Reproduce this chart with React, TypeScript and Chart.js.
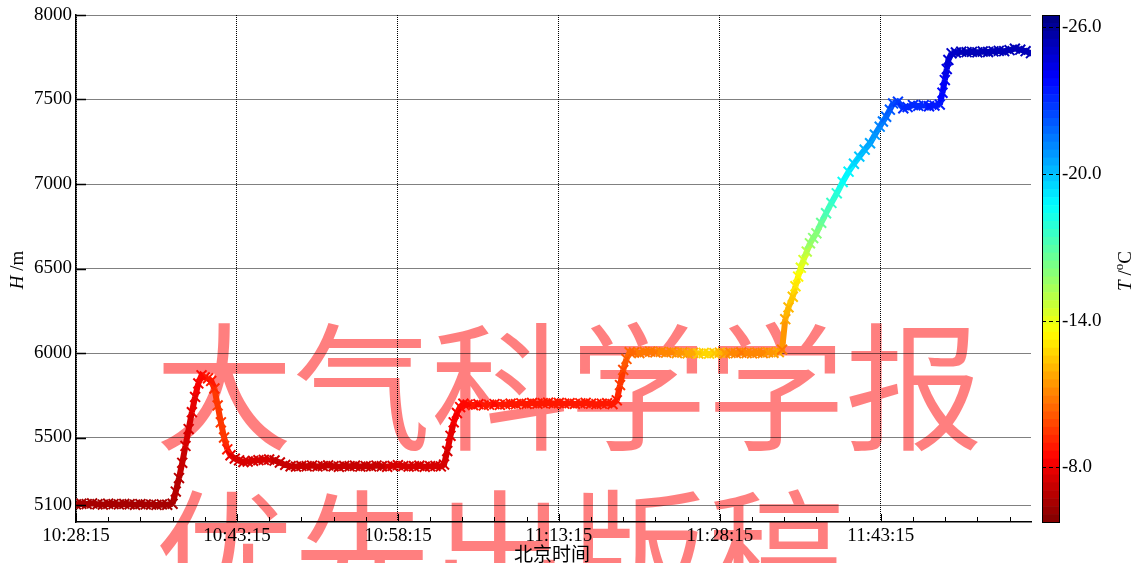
import React, { useEffect, useRef } from 'react';
import { Chart, registerables } from 'chart.js';

Chart.register(...registerables);

// ---- data (minutes after 10:28:15, height in m, temperature in °C) ----
const START_SECONDS = 10 * 3600 + 28 * 60 + 15;

const timeMin = [
  0, 0.5, 1, 1.5, 2, 2.5, 3, 3.5, 4, 4.5, 5, 5.5, 6, 6.5, 7, 7.5, 8, 8.5, 9,
  9.3, 9.6, 9.9, 10.2, 10.5, 10.8, 11.1, 11.4, 11.7,
  12.0, 12.3, 12.6, 12.9, 13.2, 13.5, 13.8, 14.1, 14.4, 14.8,
  15.2, 15.6, 16.0, 16.5, 17.0, 17.5, 18.0, 18.5, 19.0, 19.5, 20.0,
  20.5, 21, 21.5, 22, 22.5, 23, 23.5, 24, 24.5, 25, 25.5, 26, 26.5, 27, 27.5, 28, 28.5, 29, 29.5, 30, 30.5, 31, 31.5, 32, 32.5, 33, 33.5, 34,
  34.3, 34.6, 34.9, 35.2, 35.5, 35.8, 36.1,
  36.5, 37, 37.5, 38, 38.5, 39, 39.5, 40, 40.5, 41, 41.5, 42, 42.5, 43, 43.5, 44, 44.5, 45, 45.5, 46, 46.5, 47, 47.5, 48, 48.5, 49, 49.5, 50,
  50.4, 50.7, 51.0, 51.3, 51.6,
  52, 52.5, 53, 53.5, 54, 54.5, 55, 55.5, 56, 56.5, 57, 57.5, 58, 58.5, 59, 59.5, 60, 60.5, 61, 61.5, 62, 62.5, 63, 63.5, 64, 64.5, 65, 65.5,
  65.8, 66.1, 66.4, 66.8, 67.05, 67.3, 67.55, 67.8, 68.1, 68.4, 68.7, 69.0, 69.45, 69.9, 70.4, 70.9, 71.45, 72.0, 72.5, 73.0, 73.5, 74.0, 74.45, 74.9, 75.2, 75.5, 75.85, 76.15,
  76.6, 77.1, 77.5, 78.0, 78.5, 79.0, 79.5, 80.0, 80.5,
  80.75, 80.97, 81.15, 81.3, 81.6,
  82, 82.5, 83, 83.5, 84, 84.5, 85, 85.5, 86, 86.5, 87, 87.5, 88, 88.5, 89,
];

const heightM = [
  5104, 5108, 5106, 5110, 5105, 5103, 5108, 5106, 5104, 5107, 5105, 5102, 5106, 5104, 5103, 5101, 5104, 5102, 5108,
  5180, 5260, 5350, 5450, 5550, 5650, 5740, 5820, 5868,
  5855, 5850, 5835, 5790, 5690, 5590, 5500, 5430, 5395, 5375,
  5365, 5355, 5358, 5362, 5366, 5368, 5370, 5364, 5352, 5338, 5330,
  5328, 5332, 5330, 5334, 5329, 5331, 5335, 5330, 5327, 5332, 5330, 5333, 5328, 5331, 5329, 5334, 5330, 5327, 5332, 5336, 5331, 5328, 5330, 5333, 5327, 5330, 5332, 5329,
  5340, 5420, 5510, 5590, 5645, 5680, 5700,
  5695, 5692, 5697, 5690, 5694, 5698, 5693, 5696, 5700, 5697, 5702, 5699, 5704, 5700, 5703, 5706, 5701, 5704, 5700, 5703, 5699, 5702, 5705, 5700, 5697, 5700, 5703, 5698,
  5720, 5810, 5900, 5965, 6005,
  6003, 6000, 6006, 6008, 6004, 6007, 6002, 6005, 6000, 6003, 5998, 6001, 5997, 6000, 5996, 5999, 6002, 5998, 6001, 5999, 6003, 6000, 5998, 6002, 6000, 6004, 6001, 6005,
  6020, 6200, 6270, 6333, 6395, 6452, 6505, 6550, 6600, 6649, 6680, 6708, 6770, 6827, 6888, 6945, 7012, 7073, 7120, 7162, 7203, 7241, 7292, 7339, 7370, 7398, 7440, 7477,
  7487, 7448, 7455, 7467, 7462, 7466, 7460, 7464, 7470,
  7540, 7615, 7680, 7734, 7773,
  7778, 7783, 7780, 7782, 7779, 7784, 7781, 7785, 7788, 7786, 7792, 7801, 7795, 7786, 7774,
];

const tempC = [
  -6.6, -6.5, -6.6, -6.7, -6.6, -6.5, -6.6, -6.6, -6.7, -6.6, -6.5, -6.6, -6.6, -6.7, -6.6, -6.5, -6.6, -6.7, -6.7,
  -6.8, -7.0, -7.2, -7.4, -7.6, -7.8, -8.0, -8.3, -8.5,
  -8.6, -8.7, -8.8, -9.2, -9.5, -9.6, -9.4, -8.8, -8.0, -7.6,
  -7.5, -7.4, -7.4, -7.4, -7.4, -7.4, -7.4, -7.3, -7.3, -7.2, -7.2,
  -7.2, -7.2, -7.2, -7.2, -7.2, -7.2, -7.2, -7.2, -7.2, -7.2, -7.2, -7.2, -7.2, -7.2, -7.3, -7.3, -7.3, -7.4, -7.4, -7.4, -7.5, -7.5, -7.4, -7.5, -7.5, -7.6, -7.5, -7.6,
  -7.5, -7.7, -7.9, -8.1, -8.3, -8.5, -8.6,
  -8.6, -8.7, -8.6, -8.7, -8.7, -8.6, -8.7, -8.8, -8.7, -8.7, -8.8, -8.7, -8.8, -8.9, -8.8, -8.7, -8.8, -8.8, -8.9, -8.8, -8.8, -8.9, -8.8, -8.9, -8.9, -9.0, -8.9, -9.0,
  -9.0, -9.4, -9.8, -10.2, -10.5,
  -10.6, -10.7, -10.8, -10.8, -10.9, -11.0, -11.0, -11.2, -11.3, -11.5, -11.7, -11.9, -12.4, -12.6, -12.7, -12.5, -12.1, -11.5, -11.1, -11.0, -10.9, -11.0, -11.0, -11.1, -11.2, -11.3, -11.5, -11.8,
  -10.9, -11.8, -12.1, -12.4, -12.9, -13.4, -14.0, -14.5, -15.1, -15.7, -15.9, -16.1, -16.7, -17.2, -17.6, -18.0, -18.5, -19.0, -19.4, -19.85, -20.2, -20.5, -20.9, -21.2, -21.45, -21.7, -22.1, -22.5,
  -22.7, -23.0, -23.1, -23.2, -23.2, -23.2, -23.3, -23.3, -23.4,
  -23.8, -24.1, -24.4, -24.7, -25.0,
  -25.1, -25.2, -25.2, -25.2, -25.2, -25.3, -25.2, -25.3, -25.2, -25.3, -25.2, -25.3, -25.3, -25.2, -25.2,
];

const xTickMinutes = [0, 15, 30, 45, 60, 75];
const xMinorStep = 3;
const yTickValues = [5100, 5500, 6000, 6500, 7000, 7500, 8000];
const colorbarTicks = [-26, -20, -14, -8];
const T_COLD = -26.48;
const T_WARM = -5.77;
const X_MAX = 89;
const Y_MIN = 5000;
const Y_MAX = 8000;

const watermarkLine1 = '大气科学学报';
const watermarkLine2 = '优先出版稿';
const xTitle = '北京时间';

const SERIF = '"Liberation Serif", "Times New Roman", serif';
const CJK = '"Noto Sans CJK SC", sans-serif';

function jet(v: number): [number, number, number] {
  const c = (x: number) => Math.max(0, Math.min(1, x));
  const r = c(Math.min(4 * v - 1.5, -4 * v + 4.5));
  const g = c(Math.min(4 * v - 0.5, -4 * v + 3.5));
  const b = c(Math.min(4 * v + 0.5, -4 * v + 2.5));
  return [Math.round(r * 255), Math.round(g * 255), Math.round(b * 255)];
}

function tempColor(t: number): string {
  let v = (t - T_COLD) / (T_WARM - T_COLD);
  v = Math.max(0, Math.min(1, v));
  v = (Math.floor(v * 64 - 1e-9) + 0.5) / 64;
  const [r, g, b] = jet(v);
  return `rgb(${r},${g},${b})`;
}

function fmtTime(min: number): string {
  const s = START_SECONDS + Math.round(min * 60);
  const h = Math.floor(s / 3600);
  const m = Math.floor((s % 3600) / 60);
  const sec = s % 60;
  return `${h}:${String(m).padStart(2, '0')}:${String(sec).padStart(2, '0')}`;
}

const decorPlugin = {
  id: 'decor',
  beforeDraw(chart: any) {
    const ctx = chart.ctx;
    ctx.save();
    ctx.fillStyle = '#ffffff';
    ctx.fillRect(0, 0, chart.width, chart.height);
    ctx.fillStyle = 'rgba(255,0,0,0.5)';
    ctx.font = `138px ${CJK}`;
    ctx.textBaseline = 'middle';
    ctx.textAlign = 'left';
    ctx.fillText(watermarkLine1, 155, 387);
    ctx.fillText(watermarkLine2, 155, 554);
    ctx.restore();
  },
  afterDraw(chart: any) {
    const ctx = chart.ctx;
    const xs = chart.scales.x;
    const ys = chart.scales.y;
    const ts = chart.scales.yT;
    const area = chart.chartArea;
    ctx.save();
    ctx.strokeStyle = '#000';
    ctx.lineWidth = 1.5;
    // inward y ticks
    ctx.beginPath();
    yTickValues.forEach((v) => {
      const py = Math.round(ys.getPixelForValue(v)) + 0.5;
      ctx.moveTo(area.left, py);
      ctx.lineTo(area.left + 10, py);
    });
    ctx.stroke();
    // x ticks (major + minor) pointing up
    ctx.lineWidth = 1;
    ctx.beginPath();
    for (let m = 0; m <= X_MAX; m += xMinorStep) {
      const px = Math.round(xs.getPixelForValue(m)) + 0.5;
      const major = xTickMinutes.includes(m);
      ctx.moveTo(px, area.bottom);
      ctx.lineTo(px, area.bottom - (major ? 8 : 5));
    }
    ctx.stroke();

    // colorbar
    const cbLeft = area.right + 11;
    const cbW = 17;
    const N = 64;
    for (let i = 0; i < N; i++) {
      const t0 = T_COLD + (i / N) * (T_WARM - T_COLD);
      const t1 = T_COLD + ((i + 1) / N) * (T_WARM - T_COLD);
      const y0 = ts.getPixelForValue(t0);
      const y1 = ts.getPixelForValue(t1);
      const [r, g, b] = jet((i + 0.5) / N);
      ctx.fillStyle = `rgb(${r},${g},${b})`;
      ctx.fillRect(cbLeft, Math.min(y0, y1), cbW, Math.abs(y1 - y0) + 0.6);
    }
    ctx.strokeStyle = '#000';
    ctx.lineWidth = 1;
    ctx.strokeRect(cbLeft + 0.5, ts.top + 0.5, cbW, ts.bottom - ts.top);
    ctx.setLineDash([4, 3]);
    ctx.beginPath();
    colorbarTicks.forEach((v) => {
      const py = Math.round(ts.getPixelForValue(v)) + 0.5;
      ctx.moveTo(cbLeft, py);
      ctx.lineTo(cbLeft + cbW + 1, py);
    });
    ctx.stroke();
    ctx.setLineDash([]);

    // axis titles
    ctx.fillStyle = '#000';
    ctx.textBaseline = 'middle';
    const italic = `italic 19px ${SERIF}`;
    const normal = `19px ${SERIF}`;
    // H /m
    ctx.save();
    ctx.translate(18, 270);
    ctx.rotate(-Math.PI / 2);
    ctx.font = italic;
    const wH = ctx.measureText('H').width;
    ctx.font = normal;
    const wM = ctx.measureText(' /m').width;
    let x0 = -(wH + wM) / 2;
    ctx.textAlign = 'left';
    ctx.font = italic;
    ctx.fillText('H', x0, 0);
    ctx.font = normal;
    ctx.fillText(' /m', x0 + wH, 0);
    ctx.restore();
    // T /oC
    ctx.save();
    ctx.translate(1126, 271);
    ctx.rotate(-Math.PI / 2);
    ctx.font = italic;
    const wT = ctx.measureText('T').width;
    ctx.font = normal;
    const wS = ctx.measureText(' /').width;
    ctx.font = `13px ${SERIF}`;
    const wO = ctx.measureText('o').width;
    ctx.font = normal;
    const wC = ctx.measureText('C').width;
    x0 = -(wT + wS + wO + wC) / 2;
    ctx.textAlign = 'left';
    ctx.font = italic;
    ctx.fillText('T', x0, 0);
    ctx.font = normal;
    ctx.fillText(' /', x0 + wT, 0);
    ctx.font = `13px ${SERIF}`;
    ctx.fillText('o', x0 + wT + wS, -6);
    ctx.font = normal;
    ctx.fillText('C', x0 + wT + wS + wO, 0);
    ctx.restore();
    // x title
    ctx.font = `19px ${CJK}`;
    ctx.textAlign = 'center';
    ctx.fillText(xTitle, 552, 554);
    ctx.restore();
  },
};

export default function App() {
  const canvasRef = useRef<HTMLCanvasElement | null>(null);

  useEffect(() => {
    if (!canvasRef.current) return;
    const points = timeMin.map((t, i) => ({ x: t, y: heightM[i] }));
    const pointColors = tempC.map(tempColor);
    const tickFont = { family: SERIF, size: 19 };
    const chart = new Chart(canvasRef.current, {
      type: 'scatter',
      data: {
        datasets: [
          {
            data: points,
            showLine: true,
            borderWidth: 6,
            borderColor: pointColors[0],
            segment: {
              borderColor: (c: any) =>
                tempColor((tempC[c.p0DataIndex] + tempC[c.p1DataIndex]) / 2),
            },
            pointStyle: 'crossRot',
            pointRadius: 7,
            pointBorderWidth: 2,
            pointBorderColor: pointColors,
            pointBackgroundColor: pointColors,
            xAxisID: 'x',
            yAxisID: 'y',
          } as any,
        ],
      },
      options: {
        responsive: false,
        animation: false,
        layout: { padding: { top: 15, left: 0, right: 0, bottom: 0 } },
        plugins: { legend: { display: false }, tooltip: { enabled: false } },
        scales: {
          x: {
            type: 'linear',
            min: 0,
            max: X_MAX,
            afterBuildTicks: (s: any) => {
              s.ticks = xTickMinutes.map((v) => ({ value: v }));
            },
            afterFit: (s: any) => {
              s.height = 41;
              s.paddingLeft = 0;
              s.paddingRight = 0;
            },
            ticks: {
              font: tickFont,
              color: '#000',
              padding: 3,
              maxRotation: 0,
              autoSkip: false,
              callback: (v: any) => fmtTime(Number(v)),
            },
            grid: { color: '#000', lineWidth: 1, drawTicks: false },
            border: { display: true, color: '#000', width: 1.5, dash: [1, 1] },
          },
          y: {
            type: 'linear',
            position: 'left',
            min: Y_MIN,
            max: Y_MAX,
            afterBuildTicks: (s: any) => {
              s.ticks = yTickValues.map((v) => ({ value: v }));
            },
            afterFit: (s: any) => {
              s.width = 76;
              s.paddingTop = 0;
              s.paddingBottom = 0;
            },
            ticks: {
              font: tickFont,
              color: '#000',
              padding: 4,
              callback: (v: any) => String(v),
            },
            grid: { color: '#000', lineWidth: 1, drawTicks: false },
            border: { display: true, color: '#000', width: 1.5, dash: [1, 1] },
          },
          yT: {
            type: 'linear',
            position: 'right',
            display: true,
            min: T_COLD,
            max: T_WARM,
            reverse: true,
            afterBuildTicks: (s: any) => {
              s.ticks = colorbarTicks.map((v) => ({ value: v }));
            },
            afterFit: (s: any) => {
              s.width = 108;
              s.paddingTop = 0;
              s.paddingBottom = 0;
            },
            ticks: {
              font: tickFont,
              color: '#000',
              padding: 31,
              callback: (v: any) => Number(v).toFixed(1),
            },
            grid: { display: false, drawTicks: false },
            border: { display: false },
          },
        },
      } as any,
      plugins: [decorPlugin],
    });
    return () => chart.destroy();
  }, []);

  return (
    <div
      style={{
        position: 'fixed',
        left: 0,
        top: 0,
        width: 1139,
        height: 563,
        background: '#fff',
      }}
    >
      <canvas ref={canvasRef} width={1139} height={563} style={{ display: 'block' }} />
    </div>
  );
}
